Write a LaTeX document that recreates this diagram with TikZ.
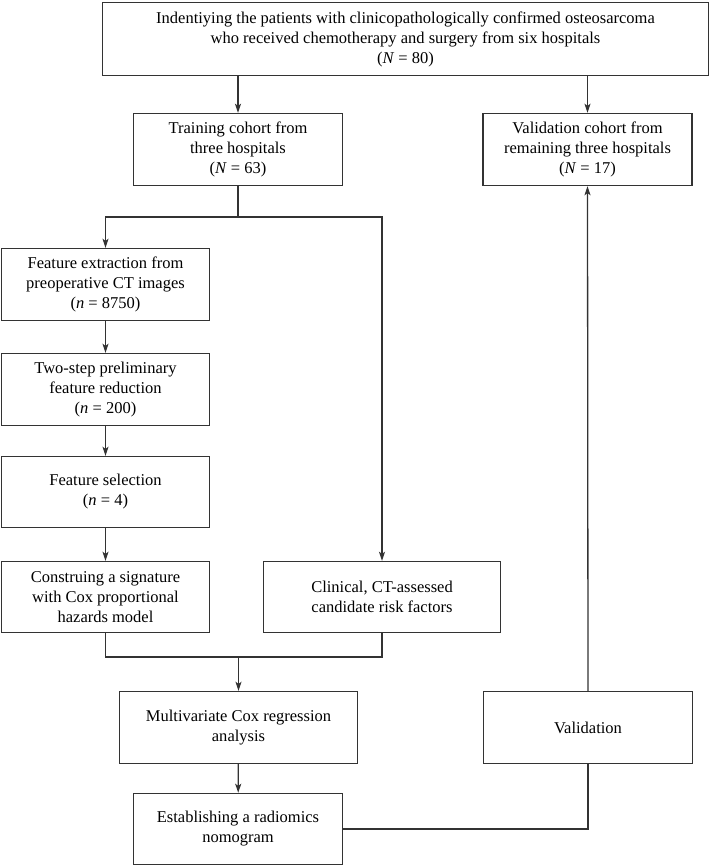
\documentclass[tikz,border=0pt]{standalone}
\usepackage{fontspec}
\setmainfont{Liberation Serif}
\usetikzlibrary{arrows.meta,positioning}
\definecolor{linec}{HTML}{333333}
\tikzset{
  box/.style={draw=linec, line width=1.4pt, align=center, inner sep=2pt,
    font=\fontsize{16.5}{20}\selectfont, text=black},
  conn/.style={draw=linec, line width=1.3pt},
  arr/.style={conn, -{Stealth[length=9pt,width=6pt,inset=2pt]}},
}
\begin{document}
\begin{tikzpicture}[x=1pt,y=-1pt]
\useasboundingbox (0,0) rectangle (710,866);
\node[box, minimum width=606pt, minimum height=73pt] (top) at (405.5,39)
  {Indentiying the patients with clinicopathologically confirmed osteosarcoma\\who received chemotherapy and surgery from six hospitals\\(\textit{N} = 80)};
\node[box, minimum width=209pt, minimum height=72pt] (train) at (238,149.5)
  {Training cohort from\\three hospitals\\(\textit{N} = 63)};
\node[box, minimum width=209pt, minimum height=72pt] (valc) at (587.5,149.5)
  {Validation cohort from\\remaining three hospitals\\(\textit{N} = 17)};
\node[box, minimum width=208pt, minimum height=72pt] (fe) at (105.5,284.5)
  {Feature extraction from\\preoperative CT images\\(\textit{n} = 8750)};
\node[box, minimum width=208pt, minimum height=72pt] (two) at (105.5,389.5)
  {Two-step preliminary\\feature reduction\\(\textit{n} = 200)};
\node[box, minimum width=208pt, minimum height=71pt] (fs) at (105.5,492)
  {Feature selection\\(\textit{n} = 4)};
\node[box, minimum width=208pt, minimum height=71pt] (sig) at (105.5,597)
  {Construing a signature\\with Cox proportional\\hazards model};
\node[box, minimum width=237pt, minimum height=71pt] (clin) at (382,597)
  {Clinical, CT-assessed\\candidate risk factors};
\node[box, minimum width=238pt, minimum height=72pt] (multi) at (238.5,727.5)
  {Multivariate Cox regression\\analysis};
\node[box, minimum width=209pt, minimum height=72pt] (val) at (588,727.5)
  {Validation};
\node[box, minimum width=209pt, minimum height=71pt] (est) at (238,829)
  {Establishing a radiomics\\nomogram};
\coordinate (split) at (238.5,217);
\coordinate (merge) at (238.5,657);
\draw[arr] (top.south -| train.north) -- (train.north);
\draw[arr] (top.south -| valc.north) -- (valc.north);
\draw[conn] (train.south) -- (train.south |- split);
\draw[arr] (clin.north |- split) -- (fe.north |- split) -- (fe.north);
\draw[arr] (fe.north |- split) -- (clin.north |- split) -- (clin.north);
\draw[arr] (fe) -- (two);
\draw[arr] (two) -- (fs);
\draw[arr] (fs) -- (sig);
\draw[conn] (sig.south) -- (sig.south |- merge) -- (clin.south |- merge) -- (clin.south);
\draw[arr] (merge) -- (multi.north);
\draw[arr] (multi) -- (est);
\draw[conn] (est.east) -- (val.south |- est.east) -- (val.south);
\draw[arr] (val.north) -- (valc.south);
\end{tikzpicture}
\end{document}
